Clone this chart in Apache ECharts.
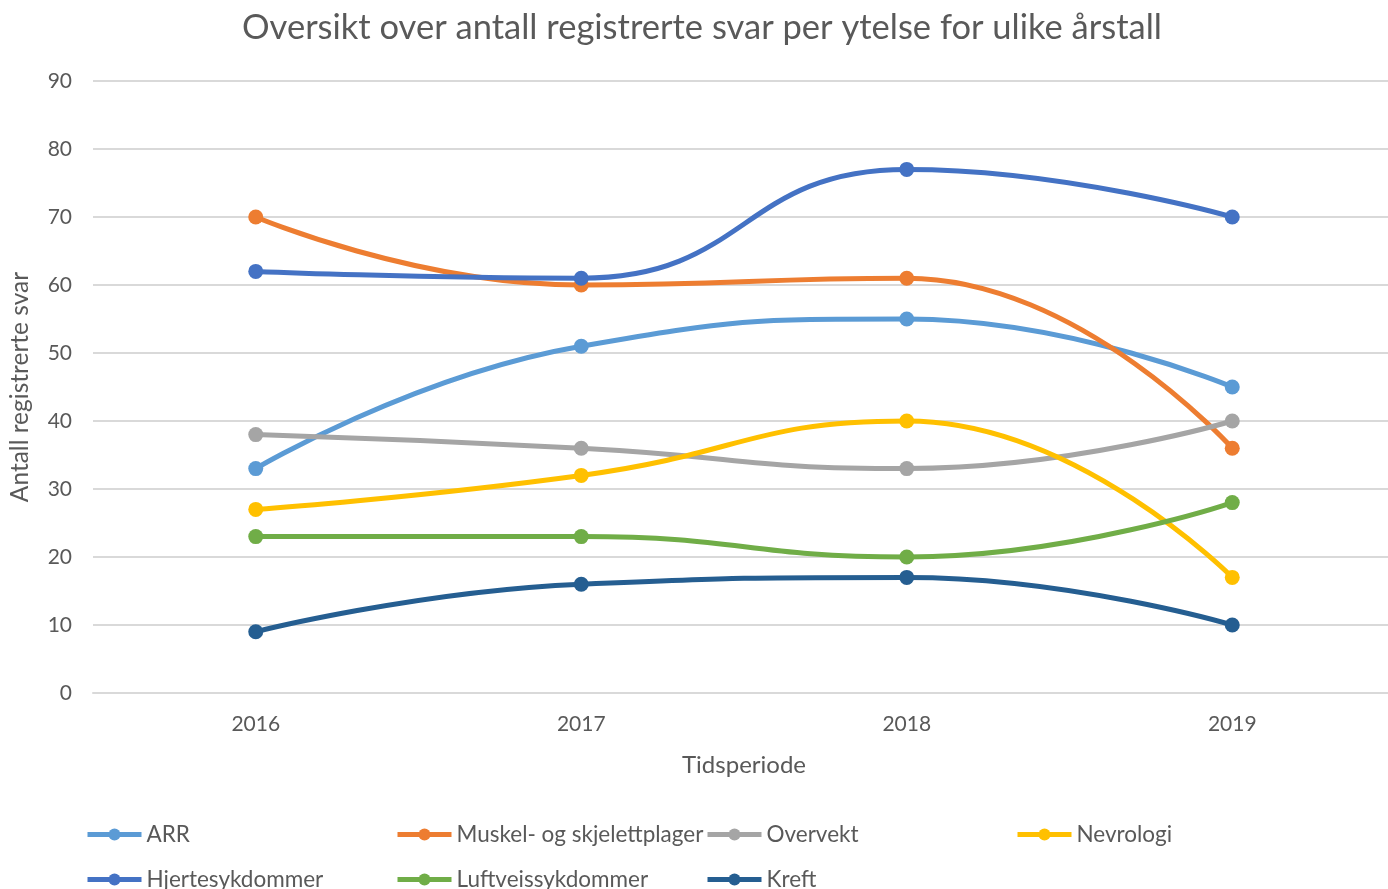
<!DOCTYPE html>
<html>
<head>
<meta charset="utf-8">
<script src="https://cdn.jsdelivr.net/npm/echarts@6/dist/echarts.min.js"></script>
<style>
  html, body { margin: 0; padding: 0; background: #fff; overflow: hidden; }
  #chart { width: 1400px; height: 889px; }
</style>
</head>
<body>
<div id="chart"></div>
<script>
const years = ['2016', '2017', '2018', '2019'];
const arr = [33, 51, 55, 45];
const muskel = [70, 60, 61, 36];
const overvekt = [38, 36, 33, 40];
const nevrologi = [27, 32, 40, 17];
const hjerte = [62, 61, 77, 70];
const luftveis = [23, 23, 20, 28];
const kreft = [9, 16, 17, 10];

const FONT = 'Lato';
const TXT = '#595959';

const seriesDefs = [
    { name: 'ARR', data: arr, color: '#5B9BD5', left: 85, top: 823 },
    { name: 'Muskel- og skjelettplager', data: muskel, color: '#ED7D31', left: 395, top: 823 },
    { name: 'Overvekt', data: overvekt, color: '#A5A5A5', left: 705, top: 823 },
    { name: 'Nevrologi', data: nevrologi, color: '#FFC000', left: 1015, top: 823 },
    { name: 'Hjertesykdommer', data: hjerte, color: '#4472C4', left: 85, top: 868 },
    { name: 'Luftveissykdommer', data: luftveis, color: '#70AD47', left: 395, top: 868 },
    { name: 'Kreft', data: kreft, color: '#255E91', left: 705, top: 868 }
];

// container is a bit wider than the window so the plot runs off the right edge like the original
let myChart = echarts.init(document.getElementById('chart'));
let option = {
    backgroundColor: '#fff',
    textStyle: { fontFamily: FONT },
    title: {
        text: 'Oversikt over antall registrerte svar per ytelse for ulike årstall',
        left: 697,
        textAlign: 'center',
        top: 5,
        textStyle: { color: TXT, fontSize: 34.5, fontWeight: 'normal', fontFamily: FONT }
    },
    // one legend per item so the columns line up like the original
    legend: seriesDefs.map((s) => ({
        data: [s.name],
        left: s.left,
        top: s.top,
        padding: 0,
        itemWidth: 54,
        itemHeight: 15,
        lineStyle: { width: 5 },
        textStyle: { color: TXT, fontSize: 22.5, fontFamily: FONT }
    })),
    grid: {
        left: 89,
        top: 81,
        width: 1306,
        height: 612,
        containLabel: false
    },
    xAxis: {
        type: 'category',
        data: years,
        boundaryGap: true,
        name: 'Tidsperiode',
        nameLocation: 'middle',
        nameGap: 60,
        nameTextStyle: { color: TXT, fontSize: 24, fontFamily: FONT },
        axisLine: { lineStyle: { color: '#D9D9D9', width: 2 } },
        axisTick: { show: false },
        axisLabel: { color: TXT, fontSize: 21, margin: 21, fontFamily: FONT }
    },
    yAxis: {
        type: 'value',
        min: 0,
        max: 90,
        interval: 10,
        name: 'Antall registrerte svar',
        nameLocation: 'middle',
        nameGap: 60,
        nameTextStyle: { color: TXT, fontSize: 24.5, fontFamily: FONT },
        axisLine: { show: false },
        axisTick: { show: false },
        axisLabel: { color: TXT, fontSize: 21, margin: 21, fontFamily: FONT },
        splitLine: { lineStyle: { color: '#D9D9D9', width: 2 } }
    },
    series: seriesDefs.map((s) => ({
        name: s.name,
        type: 'line',
        data: s.data,
        smooth: 0.5,
        symbol: 'circle',
        symbolSize: 15,
        color: s.color,
        lineStyle: { width: 5, color: s.color },
        itemStyle: { color: s.color }
    }))
};
myChart.setOption(option);
</script>
</body>
</html>
